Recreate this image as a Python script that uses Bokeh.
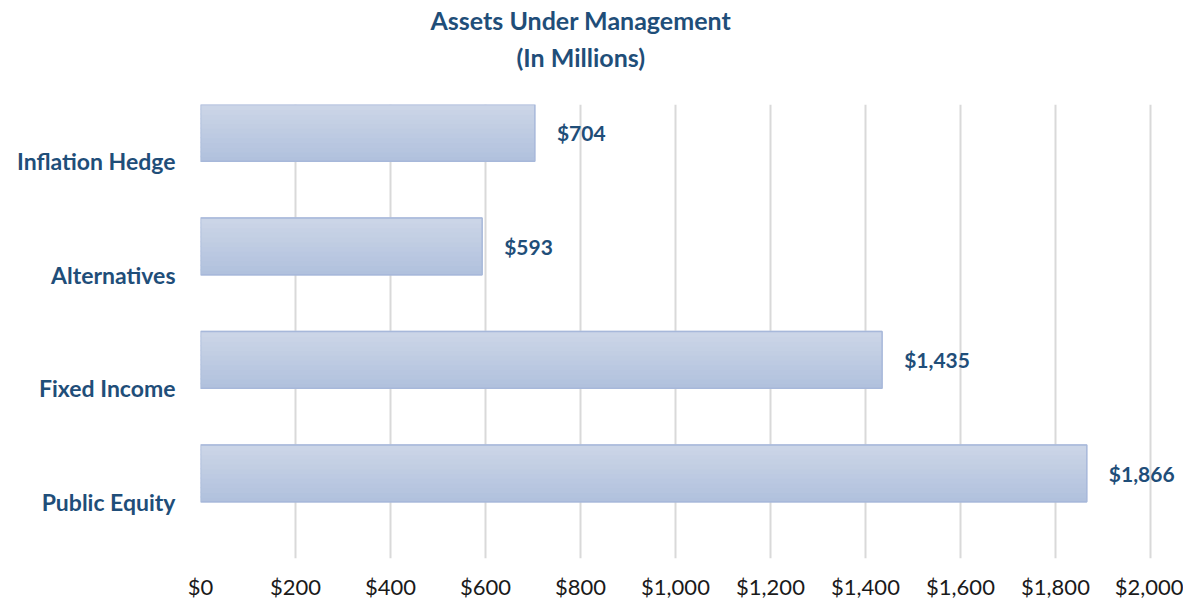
from bokeh.plotting import figure
from bokeh.models import (FactorRange, Range1d, FixedTicker, NumeralTickFormatter,
                          ColumnDataSource, Title)
from bokeh.transform import dodge
from bokeh.core.properties import value
from bokeh.embed import file_html
from bokeh.resources import INLINE

# ---- data ----
categories = ["Inflation Hedge", "Alternatives", "Fixed Income", "Public Equity"]
aum_millions = [704, 593, 1435, 1866]
value_labels = ["$704", "$593", "$1,435", "$1,866"]
x_ticks = [0, 200, 400, 600, 800, 1000, 1200, 1400, 1600, 1800, 2000]
title_line1 = "Assets Under Management"
title_line2 = "(In Millions)"

FONT = "Lato"
DARK_BLUE = "#1F4E79"

source = ColumnDataSource(data=dict(cat=categories, val=aum_millions, lab=value_labels))

# frame: x=0 at 200px, x=2000 at 1150px; extends to 1183px so value labels are not clipped
X_END = 2000 * (983 / 950)

p = figure(width=1183, height=605, output_backend="svg", toolbar_location=None,
           y_range=FactorRange(factors=list(reversed(categories)), range_padding=0),
           x_range=Range1d(0, X_END),
           min_border_left=200, min_border_right=0, min_border_top=104, min_border_bottom=47)
p.outline_line_color = None
p.background_fill_color = "white"
p.border_fill_color = "white"

# gradient bars (strips from darker bottom to lighter top)
N = 12
top_c = (0xCB, 0xD5, 0xE7)
bot_c = (0xB1, 0xC1, 0xDD)
bar_h = 0.5
for i in range(N):
    t = i / (N - 1)
    c = tuple(int(round(bot_c[k] + (top_c[k] - bot_c[k]) * t)) for k in range(3))
    col = "#%02x%02x%02x" % c
    off = (i + 0.5) * bar_h / N
    p.hbar(y=dodge("cat", off, range=p.y_range), left=0, right="val", height=bar_h / N + 0.012,
           source=source, fill_color=col, line_color=None)
p.hbar(y=dodge("cat", 0.25, range=p.y_range), left=0, right="val", height=bar_h,
       source=source, fill_alpha=0, line_color="#A7B8DA", line_width=1.5)

p.text(x="val", y=dodge("cat", 0.25, range=p.y_range), text="lab", source=source,
       x_offset=22, text_align="left", text_baseline="middle",
       text_font=value(FONT), text_font_style="bold", text_font_size="21px",
       text_color=DARK_BLUE)

# axes
p.xaxis.ticker = FixedTicker(ticks=x_ticks)
p.xaxis.formatter = NumeralTickFormatter(format="$0,0")
p.xaxis.axis_line_color = None
p.xaxis.major_tick_line_color = None
p.xaxis.minor_tick_line_color = None
p.xaxis.major_label_text_font = FONT
p.xaxis.major_label_text_font_size = "22px"
p.xaxis.major_label_text_color = "#1a1a1a"
p.xaxis.major_label_standoff = 8

p.yaxis.axis_line_color = None
p.yaxis.major_tick_line_color = None
p.yaxis.minor_tick_line_color = None
p.yaxis.major_label_text_font = FONT
p.yaxis.major_label_text_font_style = "bold"
p.yaxis.major_label_text_font_size = "23px"
p.yaxis.major_label_text_color = DARK_BLUE
p.yaxis.major_label_standoff = 19

p.xgrid.grid_line_color = "#D9D9D9"
p.xgrid.grid_line_width = 2
p.ygrid.grid_line_color = None

# title: spacer nearest the frame, then subtitle, then main line
p.add_layout(Title(text=" ", text_font_size="10px", standoff=17), "above")
p.add_layout(Title(text=title_line2, align="left", offset=316, standoff=5,
                   text_font=FONT, text_font_style="bold", text_font_size="25px",
                   text_color=DARK_BLUE), "above")
p.add_layout(Title(text=title_line1, align="left", offset=230, standoff=5,
                   text_font=FONT, text_font_style="bold", text_font_size="25px",
                   text_color=DARK_BLUE), "above")

open("out.html", "w").write(file_html(p, INLINE))
